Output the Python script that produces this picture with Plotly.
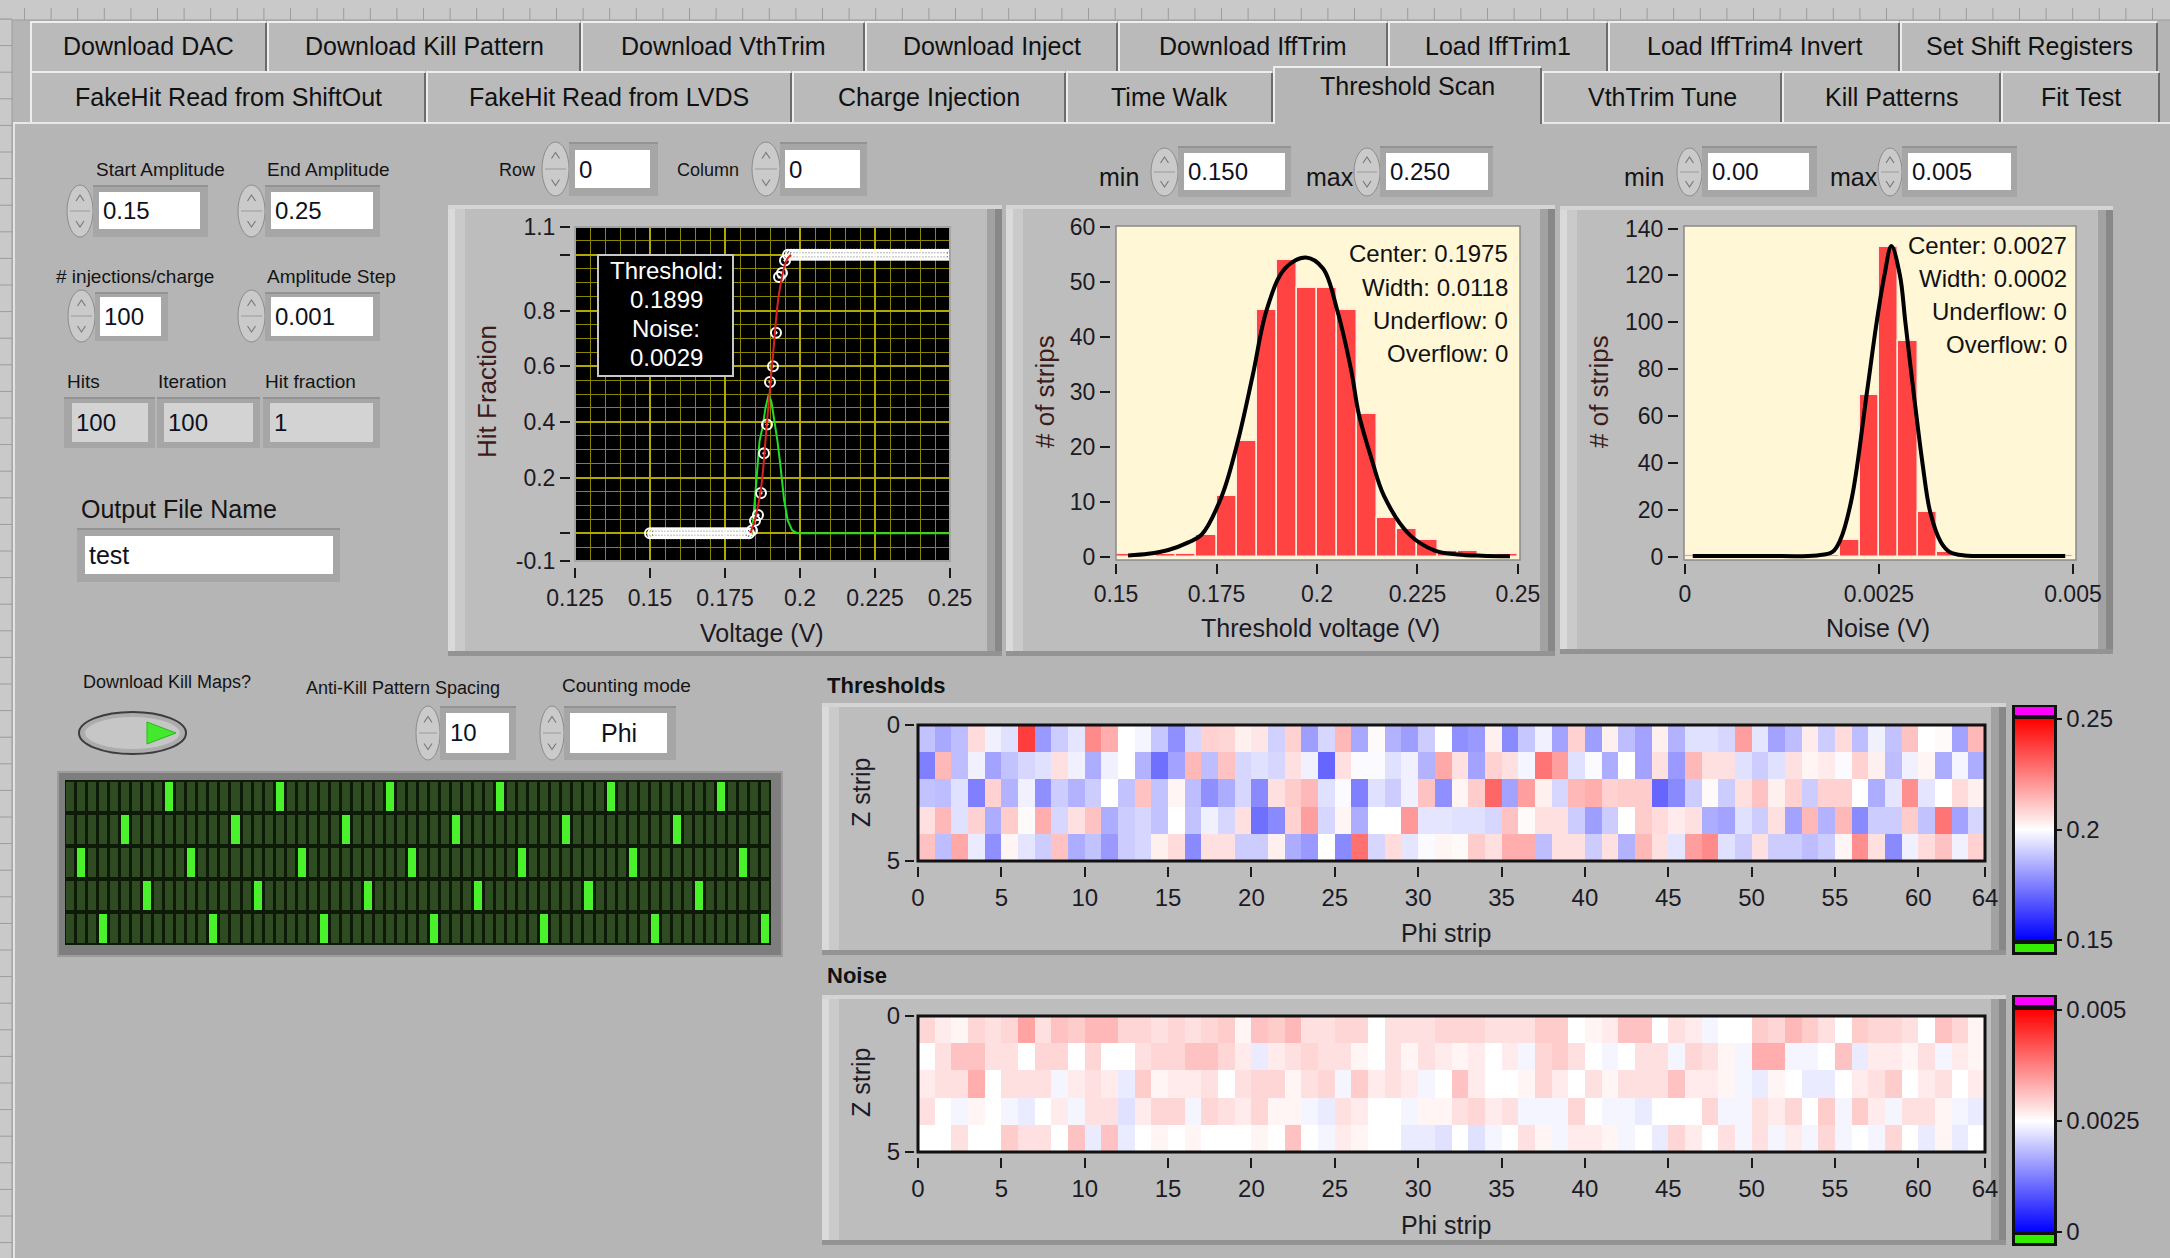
import plotly.graph_objects as go

# ------------------------------------------------------------------ data
scan_v = [0.150, 0.151, 0.152, 0.153, 0.154, 0.155, 0.156, 0.157, 0.158, 0.159,
          0.160, 0.161, 0.162, 0.163, 0.164, 0.165, 0.166, 0.167, 0.168, 0.169,
          0.170, 0.171, 0.172, 0.173, 0.174, 0.175, 0.176, 0.177, 0.178, 0.179,
          0.180, 0.181, 0.182, 0.183, 0.184, 0.185, 0.186, 0.187, 0.188, 0.189,
          0.190, 0.191, 0.192, 0.193, 0.194, 0.195, 0.196, 0.197, 0.198, 0.199,
          0.200, 0.201, 0.202, 0.203, 0.204, 0.205, 0.206, 0.207, 0.208, 0.209,
          0.210, 0.211, 0.212, 0.213, 0.214, 0.215, 0.216, 0.217, 0.218, 0.219,
          0.220, 0.221, 0.222, 0.223, 0.224, 0.225, 0.226, 0.227, 0.228, 0.229,
          0.230, 0.231, 0.232, 0.233, 0.234, 0.235, 0.236, 0.237, 0.238, 0.239,
          0.240, 0.241, 0.242, 0.243, 0.244, 0.245, 0.246, 0.247, 0.248, 0.249,
          0.250]
scan_frac = [0, 0, 0, 0, 0, 0, 0, 0, 0, 0,
             0, 0, 0, 0, 0, 0, 0, 0, 0, 0,
             0, 0, 0, 0, 0, 0, 0, 0, 0, 0,
             0, 0, 0, 0, 0.01, 0.045, 0.065, 0.144, 0.287, 0.39,
             0.543, 0.60, 0.72, 0.92, 0.935, 0.98, 1, 1, 1, 1,
             1, 1, 1, 1, 1, 1, 1, 1, 1, 1,
             1, 1, 1, 1, 1, 1, 1, 1, 1, 1,
             1, 1, 1, 1, 1, 1, 1, 1, 1, 1,
             1, 1, 1, 1, 1, 1, 1, 1, 1, 1,
             1, 1, 1, 1, 1, 1, 1, 1, 1, 1,
             1]
fit_v = [0.1835, 0.185, 0.187, 0.189, 0.191, 0.193, 0.1955, 0.197]
fit_frac = [0.0, 0.05, 0.16, 0.40, 0.64, 0.86, 0.98, 1.0]
deriv_v = [0.150, 0.1838, 0.1845, 0.1855, 0.1865, 0.1875, 0.1885, 0.1896, 0.1905,
           0.1915, 0.1925, 0.1935, 0.1947, 0.1959, 0.1974, 0.1990, 0.250]
deriv_y = [0, 0, 0.06, 0.18, 0.33, 0.38, 0.45, 0.50, 0.47, 0.40, 0.33, 0.24, 0.12,
           0.046, 0.01, 0, 0]
thr_label = ["Threshold:", "0.1899", "Noise:", "0.0029"]

thr_bin_centers = [0.1525, 0.1575, 0.1625, 0.1675, 0.1725, 0.1775, 0.1825, 0.1875, 0.1925, 0.1975,
                   0.2025, 0.2075, 0.2125, 0.2175, 0.2225, 0.2275, 0.2325, 0.2375, 0.2425, 0.2475]
thr_counts = [0.5, 0, 0.5, 0.5, 4, 11, 21, 45, 54, 49, 49, 45, 26, 7, 5, 3, 1, 1, 0, 0.5]
thr_fit_x = [0.153, 0.158, 0.163, 0.168, 0.1713, 0.1763, 0.1803, 0.184, 0.1875, 0.192, 0.1972,
             0.2015, 0.205, 0.2085, 0.2104, 0.2135, 0.2167, 0.223, 0.2293, 0.235, 0.241, 0.248]
thr_fit_y = [0.2, 0.5, 1.2, 2.6, 4, 11, 21, 33, 45, 52.5, 54.5, 52.5, 45, 34, 26, 18, 11, 4,
             1.1, 0.4, 0.15, 0.05]
thr_stats = ["Center: 0.1975", "Width: 0.0118", "Underflow: 0", "Overflow: 0"]

noise_bin_centers = [0.000125, 0.000375, 0.000625, 0.000875, 0.001125, 0.001375, 0.001625,
                     0.001875, 0.002125, 0.002375, 0.002625, 0.002875, 0.003125, 0.003375,
                     0.003625, 0.003875, 0.004125, 0.004375, 0.004625, 0.004875]
noise_counts = [0.5, 0, 0, 0, 0, 0, 0, 0.5, 7, 69, 132, 92, 19, 2, 0, 0, 0, 0, 0, 0.5]
noise_fit_x = [0.0001, 0.0010, 0.0017, 0.0019, 0.0020, 0.00215, 0.00234, 0.00247, 0.00257,
               0.00266, 0.00277, 0.00284, 0.00295, 0.00306, 0.00316, 0.0033, 0.00341, 0.0036,
               0.0042, 0.0049]
noise_fit_y = [0.3, 0.3, 0.5, 2, 7, 25, 69, 100, 120, 132.5, 120, 100, 69, 40, 19, 6, 2, 0.5,
               0.3, 0.3]
noise_stats = ["Center: 0.0027", "Width: 0.0002", "Underflow: 0", "Overflow: 0"]

thr_z0 = [0.188, 0.183, 0.187, 0.207, 0.197, 0.194, 0.238, 0.180, 0.190, 0.195, 0.223, 0.216, 0.200, 0.198, 0.189, 0.178,
          0.192, 0.209, 0.208, 0.203, 0.205, 0.191, 0.209, 0.181, 0.192, 0.214, 0.183, 0.201, 0.185, 0.181, 0.190, 0.200,
          0.178, 0.180, 0.203, 0.177, 0.189, 0.197, 0.182, 0.209, 0.181, 0.203, 0.187, 0.182, 0.203, 0.185, 0.194, 0.194,
          0.192, 0.219, 0.195, 0.182, 0.187, 0.204, 0.190, 0.207, 0.187, 0.197, 0.188, 0.212, 0.200, 0.201, 0.182, 0.214]
thr_z1 = [0.175, 0.214, 0.187, 0.197, 0.182, 0.188, 0.192, 0.194, 0.206, 0.197, 0.184, 0.197, 0.200, 0.185, 0.172, 0.182,
          0.214, 0.187, 0.212, 0.192, 0.194, 0.192, 0.206, 0.197, 0.170, 0.206, 0.199, 0.199, 0.194, 0.197, 0.185, 0.217,
          0.206, 0.182, 0.209, 0.206, 0.198, 0.227, 0.219, 0.194, 0.199, 0.184, 0.200, 0.182, 0.206, 0.180, 0.214, 0.206,
          0.206, 0.194, 0.190, 0.194, 0.206, 0.202, 0.204, 0.199, 0.209, 0.203, 0.187, 0.197, 0.202, 0.184, 0.198, 0.184]
thr_z2 = [0.188, 0.187, 0.194, 0.175, 0.209, 0.185, 0.197, 0.178, 0.190, 0.185, 0.190, 0.200, 0.188, 0.212, 0.188, 0.202,
          0.187, 0.178, 0.184, 0.192, 0.177, 0.206, 0.210, 0.214, 0.194, 0.199, 0.175, 0.194, 0.190, 0.197, 0.212, 0.178,
          0.202, 0.210, 0.230, 0.182, 0.219, 0.203, 0.192, 0.214, 0.216, 0.209, 0.210, 0.210, 0.170, 0.177, 0.190, 0.201,
          0.190, 0.206, 0.212, 0.203, 0.209, 0.190, 0.209, 0.209, 0.200, 0.184, 0.195, 0.222, 0.195, 0.200, 0.207, 0.203]
thr_z3 = [0.206, 0.214, 0.194, 0.209, 0.184, 0.210, 0.201, 0.216, 0.192, 0.206, 0.212, 0.184, 0.190, 0.192, 0.188, 0.200,
          0.188, 0.197, 0.192, 0.206, 0.172, 0.177, 0.209, 0.219, 0.192, 0.202, 0.184, 0.200, 0.200, 0.220, 0.195, 0.195,
          0.194, 0.194, 0.192, 0.212, 0.201, 0.206, 0.206, 0.190, 0.181, 0.190, 0.200, 0.210, 0.207, 0.204, 0.206, 0.184,
          0.182, 0.194, 0.190, 0.206, 0.182, 0.214, 0.185, 0.214, 0.177, 0.190, 0.190, 0.210, 0.188, 0.227, 0.182, 0.192]
thr_z4 = [0.212, 0.187, 0.217, 0.196, 0.178, 0.202, 0.195, 0.190, 0.212, 0.184, 0.188, 0.180, 0.190, 0.192, 0.203, 0.207,
          0.177, 0.206, 0.206, 0.190, 0.190, 0.203, 0.184, 0.180, 0.200, 0.177, 0.228, 0.192, 0.207, 0.195, 0.199, 0.202,
          0.201, 0.210, 0.206, 0.216, 0.216, 0.187, 0.206, 0.206, 0.190, 0.206, 0.185, 0.214, 0.206, 0.195, 0.219, 0.223,
          0.194, 0.190, 0.206, 0.190, 0.190, 0.187, 0.190, 0.202, 0.222, 0.206, 0.177, 0.197, 0.207, 0.212, 0.197, 0.209]

noise_z0 = [0.0029, 0.0027, 0.0026, 0.0029, 0.0028, 0.0029, 0.0034, 0.0028, 0.0031, 0.0030, 0.0032, 0.0032, 0.0029, 0.0029, 0.0028, 0.0029,
            0.0028, 0.0029, 0.0030, 0.0026, 0.0031, 0.0030, 0.0032, 0.0028, 0.0028, 0.0029, 0.0029, 0.0025, 0.0028, 0.0028, 0.0028, 0.0029,
            0.0029, 0.0029, 0.0028, 0.0028, 0.0028, 0.0030, 0.0030, 0.0025, 0.0026, 0.0027, 0.0031, 0.0031, 0.0025, 0.0028, 0.0027, 0.0024,
            0.0025, 0.0025, 0.0030, 0.0029, 0.0032, 0.0030, 0.0028, 0.0025, 0.0030, 0.0029, 0.0029, 0.0028, 0.0025, 0.0031, 0.0029, 0.0026]
noise_z1 = [0.0025, 0.0028, 0.0031, 0.0031, 0.0028, 0.0028, 0.0025, 0.0029, 0.0029, 0.0025, 0.0029, 0.0025, 0.0025, 0.0028, 0.0029, 0.0029,
            0.0031, 0.0031, 0.0029, 0.0027, 0.0023, 0.0027, 0.0028, 0.0029, 0.0028, 0.0028, 0.0026, 0.0025, 0.0028, 0.0026, 0.0028, 0.0027,
            0.0026, 0.0027, 0.0025, 0.0027, 0.0024, 0.0029, 0.0030, 0.0028, 0.0025, 0.0024, 0.0025, 0.0028, 0.0028, 0.0024, 0.0029, 0.0028,
            0.0026, 0.0024, 0.0033, 0.0033, 0.0024, 0.0024, 0.0025, 0.0031, 0.0023, 0.0027, 0.0027, 0.0026, 0.0028, 0.0024, 0.0027, 0.0026]
noise_z2 = [0.0027, 0.0028, 0.0028, 0.0033, 0.0025, 0.0028, 0.0028, 0.0028, 0.0024, 0.0027, 0.0028, 0.0027, 0.0023, 0.0030, 0.0026, 0.0027,
            0.0027, 0.0028, 0.0025, 0.0028, 0.0029, 0.0029, 0.0026, 0.0028, 0.0029, 0.0024, 0.0030, 0.0027, 0.0028, 0.0027, 0.0024, 0.0025,
            0.0031, 0.0027, 0.0025, 0.0025, 0.0026, 0.0029, 0.0027, 0.0025, 0.0028, 0.0026, 0.0028, 0.0028, 0.0028, 0.0031, 0.0027, 0.0027,
            0.0026, 0.0024, 0.0023, 0.0026, 0.0025, 0.0023, 0.0023, 0.0025, 0.0027, 0.0028, 0.0030, 0.0025, 0.0027, 0.0028, 0.0025, 0.0027]
noise_z3 = [0.0028, 0.0025, 0.0024, 0.0026, 0.0025, 0.0024, 0.0023, 0.0025, 0.0027, 0.0024, 0.0028, 0.0028, 0.0022, 0.0027, 0.0029, 0.0029,
            0.0024, 0.0029, 0.0028, 0.0027, 0.0029, 0.0026, 0.0026, 0.0024, 0.0023, 0.0028, 0.0027, 0.0025, 0.0025, 0.0024, 0.0026, 0.0026,
            0.0028, 0.0029, 0.0027, 0.0028, 0.0024, 0.0024, 0.0024, 0.0029, 0.0025, 0.0024, 0.0024, 0.0023, 0.0025, 0.0025, 0.0025, 0.0029,
            0.0024, 0.0024, 0.0028, 0.0027, 0.0029, 0.0025, 0.0030, 0.0024, 0.0030, 0.0027, 0.0024, 0.0028, 0.0028, 0.0026, 0.0024, 0.0023]
noise_z4 = [0.0025, 0.0025, 0.0028, 0.0025, 0.0025, 0.0030, 0.0028, 0.0028, 0.0025, 0.0031, 0.0023, 0.0031, 0.0023, 0.0025, 0.0026, 0.0025,
            0.0026, 0.0025, 0.0025, 0.0025, 0.0026, 0.0025, 0.0031, 0.0025, 0.0024, 0.0027, 0.0026, 0.0025, 0.0025, 0.0023, 0.0023, 0.0022,
            0.0025, 0.0022, 0.0024, 0.0025, 0.0028, 0.0026, 0.0024, 0.0027, 0.0027, 0.0026, 0.0024, 0.0025, 0.0023, 0.0029, 0.0027, 0.0025,
            0.0028, 0.0024, 0.0028, 0.0024, 0.0027, 0.0024, 0.0029, 0.0024, 0.0025, 0.0024, 0.0029, 0.0025, 0.0023, 0.0026, 0.0023, 0.0025]

kill_on_row0 = [9, 19, 29, 39, 49, 59]
kill_on_row1 = [5, 15, 25, 35, 45, 55]
kill_on_row2 = [1, 11, 21, 31, 41, 51, 61]
kill_on_row3 = [7, 17, 27, 37, 47, 57]
kill_on_row4 = [3, 13, 23, 33, 43, 53, 63]

strip_ticks = [0, 5, 10, 15, 20, 25, 30, 35, 40, 45, 50, 55, 60, 64]
volt_ticks = [0.125, 0.15, 0.175, 0.2, 0.225, 0.25]
volt_labels = ["0.125", "0.15", "0.175", "0.2", "0.225", "0.25"]
frac_ticks = [-0.1, 0, 0.2, 0.4, 0.6, 0.8, 1.0, 1.1]
frac_labels = ["-0.1", "", "0.2", "0.4", "0.6", "0.8", "", "1.1"]

tabs_row1 = ["Download DAC", "Download Kill Pattern", "Download VthTrim", "Download Inject",
             "Download IffTrim", "Load IffTrim1", "Load IffTrim4 Invert", "Set Shift Registers"]
tabs_row2 = ["FakeHit Read from ShiftOut", "FakeHit Read from LVDS", "Charge Injection",
             "Time Walk", "Threshold Scan", "VthTrim Tune", "Kill Patterns", "Fit Test"]

# ------------------------------------------------------------------ helpers
W, H = 2170, 1258
FONT = "Liberation Sans, Arial, sans-serif"
TXT = "#141414"
TICKC = "#1c1a24"
TITLEC = "#3a1c1c"


def X(p):
    return p / W


def Y(p):
    return 1 - p / H


shapes, annotations = [], []


def rect(x0, y0, x1, y1, fill, line=None, lw=0, layer="below"):
    shapes.append(dict(type="rect", xref="paper", yref="paper", x0=X(x0), x1=X(x1),
                       y0=Y(y1), y1=Y(y0), fillcolor=fill,
                       line=dict(color=line if line else "rgba(0,0,0,0)", width=lw),
                       layer=layer))


def ellipse(x0, y0, x1, y1, fill, line=None, lw=0, layer="below"):
    shapes.append(dict(type="circle", xref="paper", yref="paper", x0=X(x0), x1=X(x1),
                       y0=Y(y1), y1=Y(y0), fillcolor=fill,
                       line=dict(color=line if line else "rgba(0,0,0,0)", width=lw),
                       layer=layer))


def path(pts, color, lw=1, fill=None, closed=False, layer="below"):
    d = "M " + " L ".join(f"{X(x):.6f},{Y(y):.6f}" for x, y in pts)
    if closed:
        d += " Z"
    shapes.append(dict(type="path", xref="paper", yref="paper", path=d,
                       line=dict(color=color, width=lw),
                       fillcolor=fill if fill else "rgba(0,0,0,0)", layer=layer))


def segments(segs, color, lw=1, layer="below"):
    d = " ".join(f"M {X(a):.6f},{Y(b):.6f} L {X(c):.6f},{Y(e):.6f}" for a, b, c, e in segs)
    shapes.append(dict(type="path", xref="paper", yref="paper", path=d,
                       line=dict(color=color, width=lw), layer=layer))


def txt(x, y, s, size=20, color=TXT, xa="left", ya="middle", angle=0, bold=False):
    if bold:
        s = f"<b>{s}</b>"
    annotations.append(dict(xref="paper", yref="paper", x=X(x), y=Y(y), text=s,
                            showarrow=False, xanchor=xa, yanchor=ya, textangle=angle,
                            font=dict(family=FONT, size=size, color=color), borderpad=0))


def spinner(x0, y0, x1, y1):
    ellipse(x0, y0, x1, y1, "#CACACA", "#8C8C8C", 1)
    ym = (y0 + y1) / 2
    path([(x0 + 3, ym), (x1 - 3, ym)], "#9A9A9A", 1)
    xc = (x0 + x1) / 2
    hu = y0 + (ym - y0) * 0.5
    hd = ym + (y1 - ym) * 0.5
    path([(xc - 4, hu + 3), (xc, hu - 3), (xc + 4, hu + 3)], "#7A7A7A", 1.2)
    path([(xc - 4, hd - 3), (xc, hd + 3), (xc + 4, hd - 3)], "#7A7A7A", 1.2)


def numbox(ox0, oy0, ox1, oy1, ix0, iy0, ix1, iy1, s, fill="white", size=24, center=False):
    rect(ox0, oy0, ox1, oy1, "#A6A6A6")
    rect(ox0, oy0, ox1, oy0 + 2, "#939393")
    rect(ix0, iy0, ix1, iy1, fill)
    if center:
        txt((ix0 + ix1) / 2, (iy0 + iy1) / 2, s, size, "#101020", xa="center")
    else:
        txt(ix0 + 3, (iy0 + iy1) / 2, s, size, "#101020")


def panel(x0, y0, x1, y1):
    rect(x0, y0, x1, y1, "#BDBDBD")
    rect(x0, y0, x0 + 7, y1, "#DADADA")
    rect(x0 + 7, y0, x0 + 17, y1, "#CACACA")
    rect(x1 - 15, y0, x1 - 7, y1, "#A2A2A2")
    rect(x1 - 7, y0, x1, y1, "#888888")
    rect(x0, y0, x1, y0 + 4, "#D4D4D4")
    rect(x0, y1 - 5, x1, y1, "#939393")


def tab(x0, x1, y0, y1, label, selected=False, ty=None):
    rect(x0, y0, x1, y1, "#B5B5B5" if selected else "#BABABA")
    path([(x0 + 1, y1), (x0 + 1, y0 + 1), (x1 - 1, y0 + 1)], "#EEEEEE", 2)
    path([(x1 - 1, y0 + 2), (x1 - 1, y1)], "#6C6C6C", 2)
    txt((x0 + x1) / 2, ty if ty else (y0 + y1) / 2 + 1, label, 25, "#111111", xa="center")


# ------------------------------------------------------------------ background chrome
rect(0, 0, W, 20, "#C9C9C9")
segments([(24.5 + k * 26.6, 8, 24.5 + k * 26.6, 20) for k in range(82)], "#9C9C9C", 1)
path([(0, 20), (W, 20)], "#9C9C9C", 1)
rect(0, 20, 12, H, "#C9C9C9")
segments([(0, 19 + k * 26.6, 12, 19 + k * 26.6) for k in range(48)], "#9C9C9C", 1)
path([(12, 20), (12, H)], "#9C9C9C", 1)
path([(14, 122), (14, H)], "#E4E4E4", 2)

# tabs
row1_edges = [30, 267, 581, 865, 1118, 1388, 1608, 1900, 2158]
row2_edges = [30, 426, 792, 1066, 1273, 1542, 1782, 2001, 2160]
for i, lab in enumerate(tabs_row1):
    tab(row1_edges[i], row1_edges[i + 1], 21, 71, lab, ty=46)
for i, lab in enumerate(tabs_row2):
    if lab != "Threshold Scan":
        tab(row2_edges[i], row2_edges[i + 1], 71, 122, lab, ty=97)
path([(14, 123), (1273, 123)], "#E8E8E8", 2)
path([(1542, 123), (W, 123)], "#E8E8E8", 2)
i_sel = tabs_row2.index("Threshold Scan")
tab(row2_edges[i_sel], row2_edges[i_sel + 1], 66, 124, "Threshold Scan", selected=True, ty=86)

# ------------------------------------------------------------------ left controls
txt(160, 170, "Start Amplitude", 19, xa="center")
txt(328, 170, "End Amplitude", 19, xa="center")
spinner(67, 185, 93, 237)
numbox(93, 185, 208, 237, 99, 192, 200, 229, "0.15")
spinner(238, 185, 265, 237)
numbox(265, 185, 380, 237, 271, 192, 373, 229, "0.25")

txt(135, 276, "# injections/charge", 19, xa="center")
txt(331, 276, "Amplitude Step", 19, xa="center")
spinner(68, 290, 95, 342)
numbox(95, 292, 168, 341, 100, 297, 161, 336, "100")
spinner(238, 290, 265, 342)
numbox(265, 292, 380, 341, 271, 297, 373, 336, "0.001")

txt(66, 382, "Hits", 19)
txt(157, 382, "Iteration", 19)
txt(264, 382, "Hit fraction", 19)
numbox(64, 397, 155, 448, 72, 403, 148, 442, "100", fill="#D3D3D3")
numbox(157, 397, 260, 448, 164, 403, 253, 442, "100", fill="#D3D3D3")
numbox(263, 397, 380, 448, 270, 403, 373, 442, "1", fill="#D3D3D3")

txt(80, 509, "Output File Name", 25)
numbox(77, 528, 340, 582, 85, 536, 333, 574, "test", size=25)

# Row / Column
txt(498, 170, "Row", 18)
spinner(542, 142, 569, 196)
numbox(569, 142, 658, 196, 575, 150, 650, 188, "0")
txt(676, 170, "Column", 18)
spinner(752, 142, 780, 196)
numbox(780, 142, 867, 196, 785, 150, 860, 188, "0")

# hist min/max
txt(1098, 177, "min", 25)
spinner(1151, 148, 1178, 196)
numbox(1178, 146, 1291, 197, 1184, 153, 1285, 190, "0.150")
txt(1305, 177, "max", 25)
spinner(1354, 148, 1380, 196)
numbox(1380, 146, 1493, 197, 1386, 153, 1488, 190, "0.250")

txt(1623, 177, "min", 25)
spinner(1677, 148, 1702, 196)
numbox(1702, 146, 1817, 197, 1708, 153, 1809, 190, "0.00")
txt(1829, 177, "max", 25)
spinner(1878, 148, 1902, 196)
numbox(1902, 146, 2017, 197, 1908, 153, 2011, 190, "0.005")

# bottom-left controls
txt(82, 682, "Download Kill Maps?", 18)
ellipse(79, 712, 186, 754, "#ACACAC", "#3C3C3C", 2)
ellipse(85, 717, 180, 749, "#C6C6C6")
path([(147, 722), (176, 733), (147, 744)], "#2BB81A", 1, fill="#44E82C", closed=True)
txt(305, 688, "Anti-Kill Pattern Spacing", 18)
spinner(416, 706, 440, 760)
numbox(440, 706, 516, 760, 446, 713, 509, 753, "10", size=24)
txt(561, 685, "Counting mode", 19)
spinner(540, 706, 564, 760)
numbox(564, 706, 676, 760, 570, 713, 667, 753, "Phi", size=25, center=True)

# ------------------------------------------------------------------ panels
panel(448, 205, 1002, 656)
panel(1006, 205, 1555, 656)
panel(1560, 206, 2113, 654)
panel(822, 703, 2006, 955)
panel(822, 995, 2006, 1245)
rect(57, 771, 783, 957, "#9C9C9C")
rect(59, 773, 781, 955, "#7E7E7E")
rect(65, 780, 771, 945, "#0C1A07")

# plot backgrounds
rect(575, 227, 950, 561, "black")
rect(1116, 226, 1520, 560, "#FFF7D6")
rect(1684, 226, 2076, 560, "#FFF7D6")

# plot borders
rect(575, 227, 950, 561, "rgba(0,0,0,0)", "#A4A4A4", 2, layer="above")
rect(1116, 226, 1520, 560, "rgba(0,0,0,0)", "#8A8A8A", 1.5, layer="above")
rect(1684, 226, 2076, 560, "rgba(0,0,0,0)", "#8A8A8A", 1.5, layer="above")
rect(918, 725, 1985, 861, "rgba(0,0,0,0)", "#111111", 3, layer="above")
rect(918, 1016, 1985, 1152, "rgba(0,0,0,0)", "#111111", 3, layer="above")

# threshold info box
rect(598, 255, 733, 376, "black", "#C8C8C8", 2, layer="above")
for k, s in enumerate(thr_label):
    txt(666, 271 + k * 28.7, s, 24, "white", xa="center")

# colorbar frames with out-of-range boxes
rect(2012, 705, 2057, 955, "#111111")
rect(2015, 707, 2054, 715, "#FF00FF")
rect(2015, 944, 2054, 952, "#33EE00")
rect(2012, 995, 2057, 1246, "#111111")
rect(2015, 997, 2054, 1005, "#FF00FF")
rect(2015, 1235, 2054, 1243, "#33EE00")

# labels / titles
txt(487, 392, "Hit Fraction", 26, TITLEC, xa="center", angle=-90)
txt(762, 633, "Voltage (V)", 25, TICKC, xa="center")
txt(1045, 392, "# of strips", 26, TITLEC, xa="center", angle=-90)
txt(1320, 628, "Threshold voltage (V)", 25, TICKC, xa="center")
txt(1599, 392, "# of strips", 26, TITLEC, xa="center", angle=-90)
txt(1878, 628, "Noise (V)", 25, TICKC, xa="center")
for k, s in enumerate(thr_stats):
    txt(1509, 254 + k * 33, s, 24, "#111111", xa="right")
for k, s in enumerate(noise_stats):
    txt(2068, 245 + k * 33, s, 24, "#111111", xa="right")

txt(826, 685, "Thresholds", 22, "#111111", bold=True)
txt(826, 975, "Noise", 22, "#111111", bold=True)
txt(861, 793, "Z strip", 25, TICKC, xa="center", angle=-90)
txt(861, 1083, "Z strip", 25, TICKC, xa="center", angle=-90)
txt(1446, 933, "Phi strip", 25, TICKC, xa="center")
txt(1446, 1225, "Phi strip", 25, TICKC, xa="center")

# ------------------------------------------------------------------ traces
fig = go.Figure()
fig.add_trace(go.Scatter(x=deriv_v, y=deriv_y, mode="lines", line=dict(color="#22DD22", width=2),
                         xaxis="x", yaxis="y", hoverinfo="skip"))
fig.add_trace(go.Scatter(x=scan_v, y=scan_frac, mode="markers",
                         marker=dict(symbol="circle-open-dot", size=10, color="white",
                                     line=dict(width=2, color="white")),
                         xaxis="x", yaxis="y"))
fig.add_trace(go.Scatter(x=fit_v, y=fit_frac, mode="lines",
                         line=dict(color="#E02020", width=2, shape="spline"), xaxis="x", yaxis="y"))

fig.add_trace(go.Bar(x=thr_bin_centers, y=thr_counts, width=0.005,
                     marker=dict(color="#FF4242", line=dict(color="#FFECDC", width=1.5)),
                     xaxis="x2", yaxis="y2"))
fig.add_trace(go.Scatter(x=thr_fit_x, y=thr_fit_y, mode="lines",
                         line=dict(color="black", width=4, shape="spline"), xaxis="x2", yaxis="y2"))
fig.add_trace(go.Bar(x=noise_bin_centers, y=noise_counts, width=0.00025,
                     marker=dict(color="#FF4242", line=dict(color="#FFECDC", width=1.5)),
                     xaxis="x3", yaxis="y3"))
fig.add_trace(go.Scatter(x=noise_fit_x, y=noise_fit_y, mode="lines",
                         line=dict(color="black", width=4, shape="spline"), xaxis="x3", yaxis="y3"))

CS = [[0.0, "#0000FF"], [0.5, "#FFFFFF"], [1.0, "#FF0000"]]
cb_common = dict(xref="paper", yref="paper", xanchor="left", yanchor="top", lenmode="pixels",
                 thicknessmode="pixels", thickness=39, outlinewidth=0, xpad=0, ypad=0,
                 ticks="outside", ticklen=8, tickwidth=2, tickcolor="#111111",
                 tickfont=dict(family=FONT, size=24, color=TICKC))
fig.add_trace(go.Heatmap(z=[thr_z0, thr_z1, thr_z2, thr_z3, thr_z4], x0=0.5, dx=1, y0=0.5, dy=1,
                         zmin=0.15, zmax=0.25, colorscale=CS, xaxis="x4", yaxis="y4",
                         colorbar=dict(x=X(2015), y=Y(719), len=221,
                                       tickvals=[0.15, 0.2, 0.25], ticktext=["0.15", "0.2", "0.25"],
                                       **cb_common)))
fig.add_trace(go.Heatmap(z=[noise_z0, noise_z1, noise_z2, noise_z3, noise_z4], x0=0.5, dx=1, y0=0.5,
                         dy=1, zmin=0.0, zmax=0.005, colorscale=CS, xaxis="x5", yaxis="y5",
                         colorbar=dict(x=X(2015), y=Y(1010), len=222,
                                       tickvals=[0, 0.0025, 0.005], ticktext=["0", "0.0025", "0.005"],
                                       **cb_common)))

kill_rows = [kill_on_row0, kill_on_row1, kill_on_row2, kill_on_row3, kill_on_row4]
led_z = [[1 if c in row else 0 for c in range(64)] for row in kill_rows]
fig.add_trace(go.Heatmap(z=led_z, x0=0, dx=1, y0=0, dy=1, zmin=0, zmax=1, showscale=False,
                         colorscale=[[0, "#2E4B22"], [1, "#4AF22B"]], xgap=3, ygap=4,
                         xaxis="x6", yaxis="y6", hoverinfo="skip"))


# ------------------------------------------------------------------ axes
def axis(domain, rng, **kw):
    d = dict(domain=domain, range=rng, showgrid=False, zeroline=False, showline=False,
             ticks="outside", ticklen=10, tickwidth=2, tickcolor="#1a1a1a",
             tickfont=dict(family=FONT, size=23, color=TICKC), fixedrange=True, anchor="free",
             automargin=False)
    d.update(kw)
    return d


GRID_MAJ = "#B0AA00"
GRID_MIN = "#8A8500"
layout_axes = dict(
    xaxis=axis([X(575), X(950)], [0.125, 0.25], position=Y(567), tickmode="array",
               tickvals=volt_ticks, ticktext=volt_labels, showgrid=True, gridcolor=GRID_MAJ,
               gridwidth=2,
               minor=dict(tickmode="linear", tick0=0.125, dtick=0.005, showgrid=True,
                          gridcolor=GRID_MIN, gridwidth=1.2, ticks="")),
    yaxis=axis([Y(561), Y(227)], [-0.1, 1.1], position=X(570), tickmode="array",
               tickvals=frac_ticks, ticktext=frac_labels, showgrid=True, gridcolor=GRID_MAJ,
               gridwidth=2,
               minor=dict(tickmode="linear", tick0=0, dtick=0.05, showgrid=True,
                          gridcolor=GRID_MIN, gridwidth=1.2, ticks="")),
    xaxis2=axis([X(1116), X(1520)], [0.15, 0.2505], position=Y(563), tickmode="array",
                tickvals=[0.15, 0.175, 0.2, 0.225, 0.25],
                ticktext=["0.15", "0.175", "0.2", "0.225", "0.25"]),
    yaxis2=axis([Y(560), Y(226)], [-0.62, 60.25], position=X(1110), tickmode="array",
                tickvals=[0, 10, 20, 30, 40, 50, 60]),
    xaxis3=axis([X(1684), X(2076)], [-0.000013, 0.005039], position=Y(563), tickmode="array",
                tickvals=[0, 0.0025, 0.005], ticktext=["0", "0.0025", "0.005"]),
    yaxis3=axis([Y(560), Y(226)], [-1.45, 141.07], position=X(1678), tickmode="array",
                tickvals=[0, 20, 40, 60, 80, 100, 120, 140]),
    xaxis4=axis([X(918), X(1985)], [0, 64], position=Y(866), tickmode="array",
                tickvals=strip_ticks, tickfont=dict(family=FONT, size=24, color=TICKC)),
    yaxis4=axis([Y(861), Y(725)], [5, 0], position=X(914), tickmode="array", tickvals=[0, 5],
                ticklen=9, tickfont=dict(family=FONT, size=24, color=TICKC)),
    xaxis5=axis([X(918), X(1985)], [0, 64], position=Y(1157), tickmode="array",
                tickvals=strip_ticks, tickfont=dict(family=FONT, size=24, color=TICKC)),
    yaxis5=axis([Y(1152), Y(1016)], [5, 0], position=X(914), tickmode="array", tickvals=[0, 5],
                ticklen=9, tickfont=dict(family=FONT, size=24, color=TICKC)),
    xaxis6=dict(domain=[X(65), X(771)], range=[-0.5, 63.5], visible=False, anchor="y6",
                fixedrange=True),
    yaxis6=dict(domain=[Y(945), Y(780)], range=[4.5, -0.5], visible=False, anchor="x6",
                fixedrange=True),
)

fig.update_layout(width=W, height=H, margin=dict(l=0, r=0, t=0, b=0, pad=0, autoexpand=False),
                  paper_bgcolor="#B5B5B5", plot_bgcolor="rgba(0,0,0,0)", showlegend=False,
                  bargap=0, barmode="overlay", shapes=shapes, annotations=annotations,
                  font=dict(family=FONT), **layout_axes)

fig.write_html("out.html")
